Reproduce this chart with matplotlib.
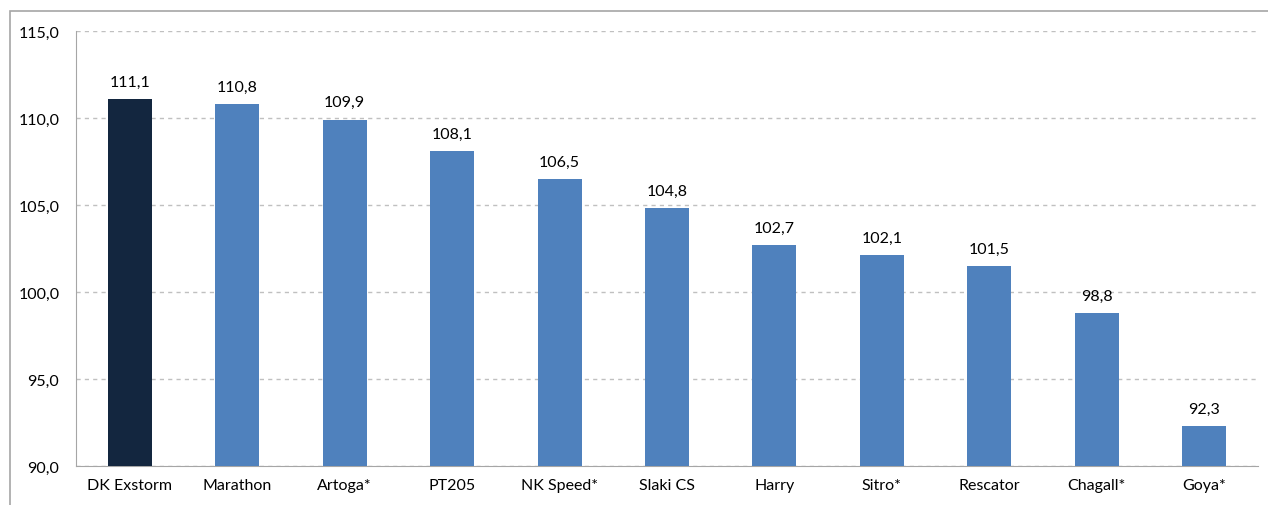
import matplotlib.pyplot as plt
from matplotlib.patches import Rectangle

# data
categories = ["DK Exstorm", "Marathon", "Artoga*", "PT205", "NK Speed*",
              "Slaki CS", "Harry", "Sitro*", "Rescator", "Chagall*", "Goya*"]
values = [111.1, 110.8, 109.9, 108.1, 106.5, 104.8, 102.7, 102.1, 101.5, 98.8, 92.3]
bar_colors = ["#13263f"] + ["#4f81bd"] * 10

plt.rcParams['font.family'] = ['Lato', 'DejaVu Sans']

W, H = 1268, 506
fig = plt.figure(figsize=(W / 100, H / 100), dpi=100)

# outer chart frame
fig.patches.append(Rectangle((10 / W, -0.1), 1.2, (H - 12) / H + 0.1,
                             transform=fig.transFigure, fill=False,
                             edgecolor="#a6a6a6", lw=1.2))

ax = fig.add_axes([76 / W, (H - 467) / H, (1258 - 76) / W, (467 - 32) / H])

x = range(len(categories))
bars = ax.bar(x, values, width=0.41, color=bar_colors, bottom=0, zorder=3)
ax.set_ylim(90, 115)
ax.set_xlim(-0.5, len(categories) - 0.5)

fs = 11.5
for xi, v in zip(x, values):
    ax.text(xi, v + 0.6, f"{v:.1f}".replace(".", ","), ha="center", va="bottom",
            fontsize=fs)

ax.set_yticks([90, 95, 100, 105, 110, 115])
ax.set_yticklabels([f"{t:.1f}".replace(".", ",") for t in [90, 95, 100, 105, 110, 115]],
                   fontsize=fs)
ax.set_xticks(list(x))
ax.set_xticklabels(categories, fontsize=fs)
ax.tick_params(length=0, pad=12)
ax.tick_params(axis="x", pad=9)

ax.yaxis.grid(True, linestyle=(0, (3, 3)), color="#c0c0c0", lw=1, zorder=0)
for s in ["top", "right"]:
    ax.spines[s].set_visible(False)
ax.spines["left"].set_color("#a6a6a6")
ax.spines["bottom"].set_color("#a6a6a6")

fig.savefig("out.png", dpi=100)
